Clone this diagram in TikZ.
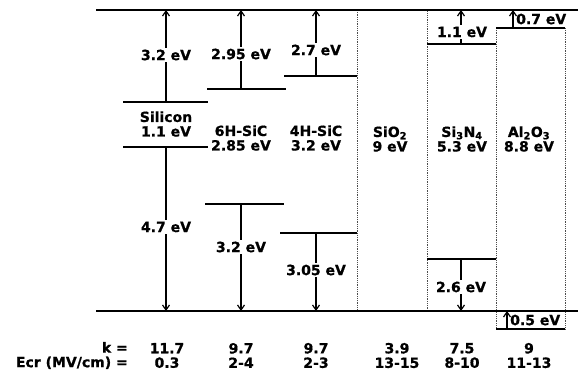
\documentclass[tikz,border=0pt]{standalone}
\usepackage{fontspec}
\setmainfont{DejaVu Sans}[BoldFeatures={FakeBold=0.8}]
\usetikzlibrary{arrows.meta}
\begin{document}
\begin{tikzpicture}[x=1pt,y=-1pt,
  every node/.style={font=\bfseries\fontsize{14}{14.5}\selectfont, inner sep=1pt, align=center},
  band/.style={line width=1.7pt},
  gap/.style={-{Straight Barb[length=5pt,width=7pt,line width=1.2pt]}, line width=1.2pt},
  lbl/.style={fill=white, inner sep=1.5pt},
  sep/.style={densely dotted, line width=0.8pt, black!70}]
\useasboundingbox (0,0) rectangle (578,374);
% reference levels
\coordinate (TL) at (96,10);   \coordinate (TR) at (578,10);
\coordinate (BL) at (96,311);  \coordinate (BR) at (578,311);
% SiO2 box
\draw[sep] (357,10) rectangle (427,310);
% Si3N4 / Al2O3 separators
\draw[sep] (496,28) -- (496,329);
\draw[sep] (565,28) -- (565,329);
\draw[band] (TL) -- (TR);
\draw[band] (BL) -- (BR);
% Silicon
\coordinate (siC) at (166,102); \coordinate (siV) at (166,147);
\coordinate (siT) at (166,10);  \coordinate (siB) at (166,311);
\draw[band] (123,102) -- (208,102);
\draw[band] (123,147) -- (208,147);
\draw[gap] (siC) -- (siT);
\draw[gap] (siV) -- (siB);
\node[lbl] (siU) at (166,55) {3.2 eV};
\node[lbl] (siD) at (166,227) {4.7 eV};
\node (siN) at (166,124) {Silicon\\1.1 eV};
% 6H-SiC
\coordinate (h6C) at (241,89); \coordinate (h6V) at (241,204);
\coordinate (h6T) at (241,10); \coordinate (h6B) at (241,311);
\draw[band] (207,89) -- (286,89);
\draw[band] (205,204) -- (284,204);
\draw[gap] (h6C) -- (h6T);
\draw[gap] (h6V) -- (h6B);
\node[lbl] (h6U) at (241,54) {2.95 eV};
\node[lbl] (h6D) at (241,247) {3.2 eV};
\node (h6N) at (241,138) {6H-SiC\\2.85 eV};
% 4H-SiC
\coordinate (h4C) at (316,76); \coordinate (h4V) at (316,233);
\coordinate (h4T) at (316,10); \coordinate (h4B) at (316,311);
\draw[band] (284,76) -- (357,76);
\draw[band] (280,233) -- (357,233);
\draw[gap] (h4C) -- (h4T);
\draw[gap] (h4V) -- (h4B);
\node[lbl] (h4U) at (316,50) {2.7 eV};
\node[lbl] (h4D) at (316,270) {3.05 eV};
\node (h4N) at (316,138) {4H-SiC\\3.2 eV};
% SiO2
\node (oxN) at (390,139) {SiO\textsubscript{2}\\9 eV};
% Si3N4
\coordinate (snC) at (461,44); \coordinate (snV) at (461,259);
\coordinate (snT) at (461,10); \coordinate (snB) at (461,311);
\draw[band] (427,44) -- (496,44);
\draw[band] (427,259) -- (496,259);
\draw[gap] (snC) -- (snT);
\draw[gap] (snV) -- (snB);
\node[lbl] (snU) at (462,32) {1.1 eV};
\node[lbl] (snD) at (461,287) {2.6 eV};
\node (snN) at (462,139) {Si\textsubscript{3}N\textsubscript{4}\\5.3 eV};
% Al2O3
\coordinate (alC) at (513,28); \coordinate (alT) at (513,10);
\coordinate (alV) at (507,329); \coordinate (alB) at (507,311);
\draw[band] (496,28) -- (565,28);
\draw[band] (496,329) -- (565,329);
\draw[gap] (alC) -- (alT);
\draw[gap] (alV) -- (alB);
\node[anchor=west] (alU) at (515,19) {0.7 eV};
\node[anchor=west] (alD) at (509,320) {0.5 eV};
\node (alN) at (529,139) {Al\textsubscript{2}O\textsubscript{3}\\8.8 eV};
% table
\node[anchor=east, align=right] (hdr) at (129,355.5) {k =\\Ecr (MV/cm) =};
\node (v1) at (167,355.5) {11.7\\0.3};
\node (v2) at (241,355.5) {9.7\\2-4};
\node (v3) at (316,355.5) {9.7\\2-3};
\node (v4) at (397,355.5) {3.9\\13-15};
\node (v5) at (462,355.5) {7.5\\8-10};
\node (v6) at (529,355.5) {9\\11-13};
\end{tikzpicture}
\end{document}
